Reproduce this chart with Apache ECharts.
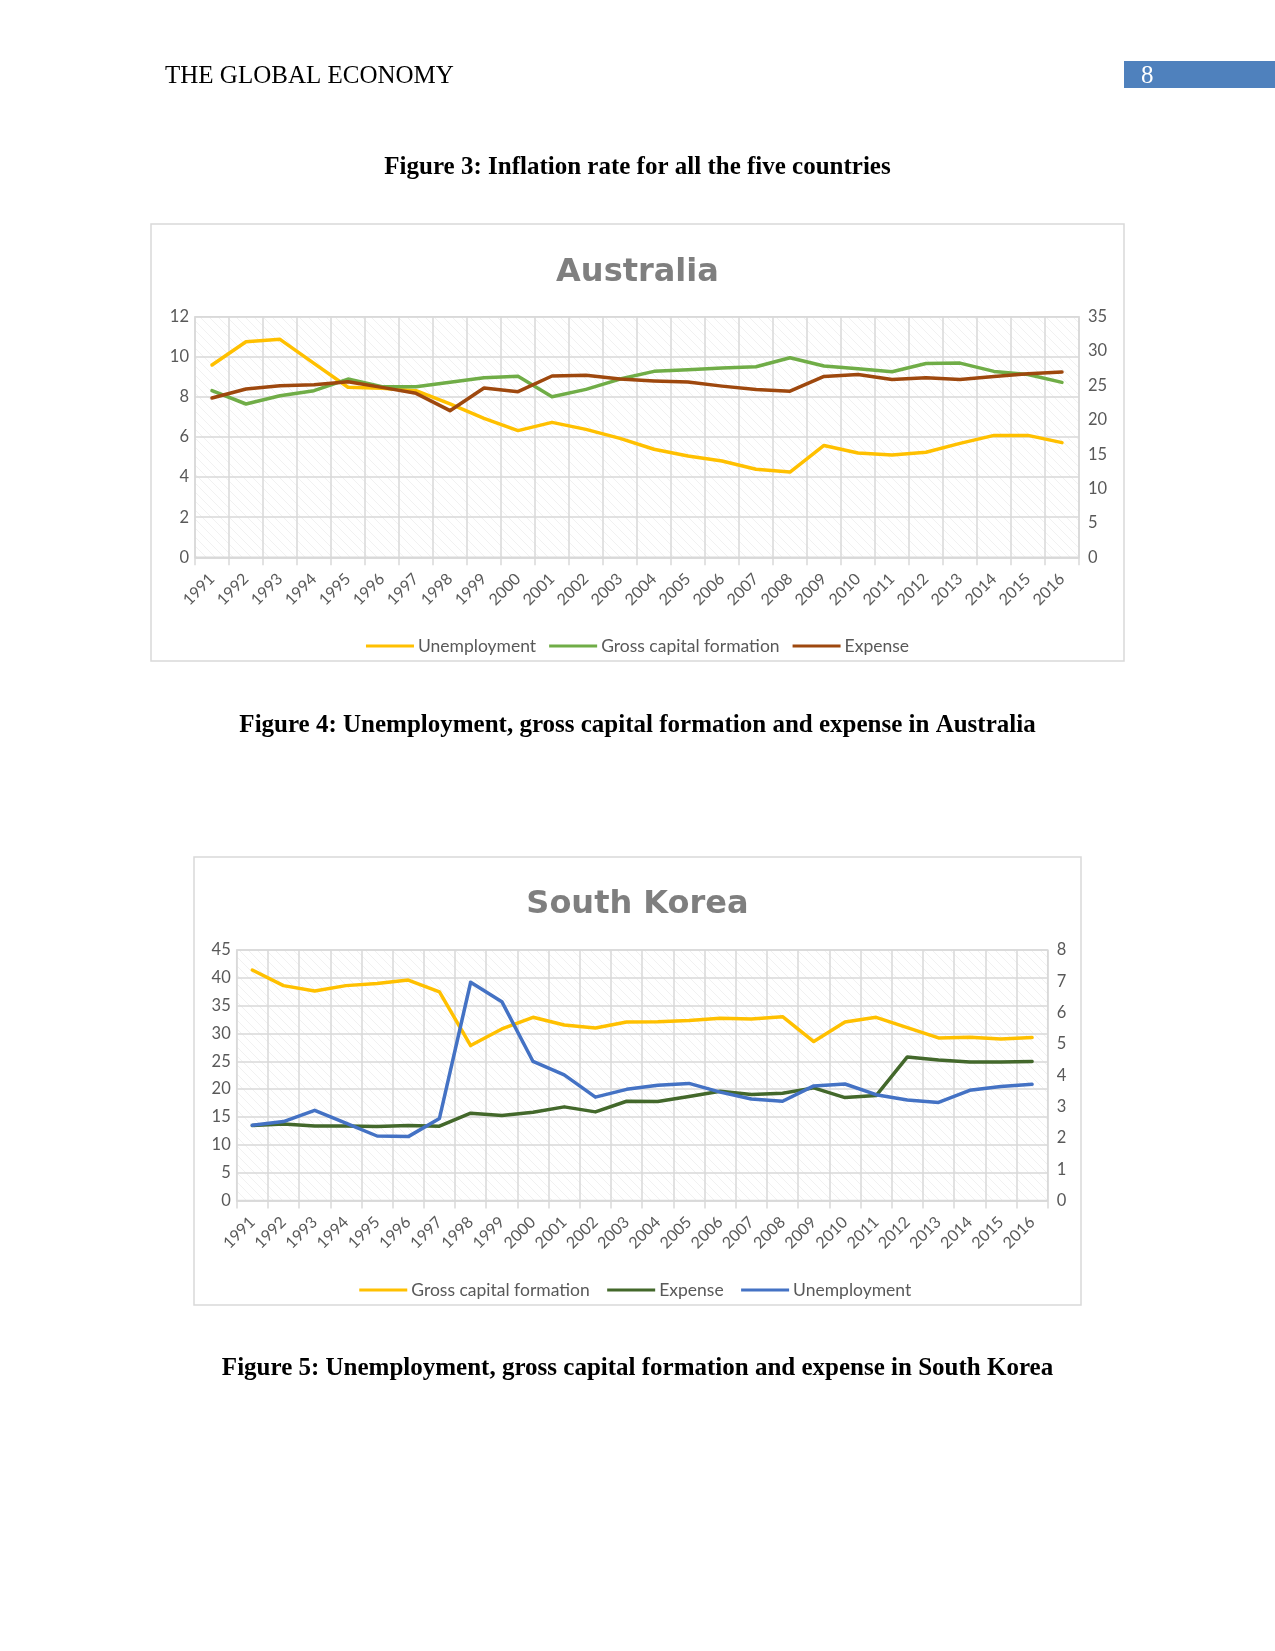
<!DOCTYPE html>
<html>
<head>
<meta charset="utf-8">
<script src="https://cdn.jsdelivr.net/npm/echarts@6/dist/echarts.min.js"></script>
<style>
html,body{margin:0;padding:0;background:#fff;}
#page{width:1275px;height:1651px;}
</style>
</head>
<body>
<div id="page"></div>
<script>
// ---------- data ----------
const years = ['1991','1992','1993','1994','1995','1996','1997','1998','1999','2000','2001','2002','2003','2004','2005','2006','2007','2008','2009','2010','2011','2012','2013','2014','2015','2016'];

// Australia
const auUnemployment = [9.59,10.75,10.87,9.67,8.48,8.43,8.31,7.65,6.93,6.32,6.73,6.38,5.93,5.39,5.05,4.80,4.39,4.25,5.58,5.20,5.10,5.24,5.68,6.08,6.08,5.72];
const auGrossCapital = [24.24,22.30,23.51,24.24,25.93,24.82,24.82,25.45,26.13,26.32,23.36,24.43,25.93,27.05,27.28,27.52,27.72,29.03,27.82,27.43,26.99,28.20,28.25,27.04,26.60,25.44];
const auExpense = [23.17,24.48,24.96,25.11,25.55,24.72,23.85,21.33,24.62,24.09,26.37,26.47,25.93,25.66,25.49,24.90,24.42,24.17,26.31,26.60,25.87,26.12,25.87,26.31,26.70,26.94];
const auLeftTicks = {min:0, max:12, interval:2};
const auRightTicks = {min:0, max:35, interval:5};

// South Korea
const krGrossCapital = [41.41,38.60,37.64,38.60,39.00,39.60,37.46,27.83,30.82,32.91,31.54,31.00,32.08,32.10,32.32,32.74,32.62,33.03,28.55,32.08,32.91,31.06,29.20,29.32,29.02,29.26];
const krExpense = [13.46,13.76,13.40,13.40,13.29,13.46,13.35,15.68,15.26,15.86,16.82,15.92,17.83,17.77,18.67,19.63,19.03,19.27,20.23,18.49,18.85,25.79,25.25,24.90,24.90,24.95];
const krUnemployment = [2.40,2.52,2.88,2.47,2.06,2.04,2.62,6.97,6.35,4.44,4.01,3.30,3.55,3.68,3.74,3.46,3.24,3.17,3.66,3.72,3.38,3.21,3.13,3.52,3.64,3.71];
const krLeftTicks = {min:0, max:45, interval:5};
const krRightTicks = {min:0, max:8, interval:1};

// ---------- styling ----------
const GRID = '#d9d9d9';
const LABEL = '#595959';
const LFONT = 'Lato';

function hatch(){
  const s = 9;
  const c = document.createElement('canvas');
  c.width = s; c.height = s;
  const g = c.getContext('2d');
  g.fillStyle = '#ffffff'; g.fillRect(0,0,s,s);
  g.strokeStyle = '#f1f1f1'; g.lineWidth = 1;
  g.beginPath();
  for (const k of [-s,0,s]) { g.moveTo(-1, -1 + k); g.lineTo(s + 1, s + 1 + k); }
  g.stroke();
  return c;
}
const pattern = {image: hatch(), repeat: 'repeat'};

function xAxis(gi){
  return {
    type:'category', gridIndex:gi, data:years, boundaryGap:true,
    axisLine:{show:true, lineStyle:{color:GRID, width:1.5}},
    axisTick:{show:true, length:8, lineStyle:{color:GRID, width:1.5}},
    splitLine:{show:true, lineStyle:{color:GRID, width:1.5}},
    axisLabel:{rotate:45, interval:0, margin:19, color:LABEL, fontFamily:LFONT, fontSize:16}
  };
}
function yAxis(gi, t, pos, split){
  return {
    type:'value', gridIndex:gi, position:pos, min:t.min, max:t.max, interval:t.interval,
    axisLine:{show:false}, axisTick:{show:false},
    splitLine:{show:split, lineStyle:{color:GRID, width:1.5}},
    axisLabel:{color:LABEL, fontFamily:LFONT, fontSize:16.5, margin: pos==='left' ? 6 : 9}
  };
}
function line(name, data, color, xi, yi){
  return {
    name, type:'line', data, xAxisIndex:xi, yAxisIndex:yi,
    symbol:'none', smooth:false,
    lineStyle:{color, width:3.5, join:'round', cap:'round'},
    itemStyle:{color},
    emphasis:{disabled:true}
  };
}

const legendStyle = {
  icon:'path://M0,0 L48,0 L48,3 L0,3 Z',
  itemWidth:48, itemHeight:3.5, itemGap:13,
  textStyle:{color:LABEL, fontFamily:LFONT, fontSize:17.5, padding:[0,0,0,-1]}
};

const serif = 'Liberation Serif, Times New Roman, serif';

const option = {
  animation:false,
  backgroundColor:'#ffffff',
  graphic:[
    {type:'rect', shape:{x:151, y:224, width:973, height:437}, style:{fill:'#fff', stroke:GRID, lineWidth:1.5}, z:-10},
    {type:'rect', shape:{x:194, y:857, width:887, height:448}, style:{fill:'#fff', stroke:GRID, lineWidth:1.5}, z:-10},
    {type:'rect', shape:{x:1124, y:61, width:151, height:27}, style:{fill:'#4f81bd'}},
    {type:'text', x:1141, y:76, style:{text:'8', fill:'#ffffff', font:'25px '+serif, textVerticalAlign:'middle'}},
    {type:'text', x:165, y:76, style:{text:'THE GLOBAL ECONOMY', fill:'#000', font:'25px '+serif, textVerticalAlign:'middle'}},
    {type:'text', x:637.5, y:168, style:{text:'Figure 3: Inflation rate for all the five countries', fill:'#000', font:'bold 25px '+serif, textAlign:'center', textVerticalAlign:'middle'}},
    {type:'text', x:637.5, y:726, style:{text:'Figure 4: Unemployment, gross capital formation and expense in Australia', fill:'#000', font:'bold 25px '+serif, textAlign:'center', textVerticalAlign:'middle'}},
    {type:'text', x:637.5, y:1369, style:{text:'Figure 5: Unemployment, gross capital formation and expense in South Korea', fill:'#000', font:'bold 25px '+serif, textAlign:'center', textVerticalAlign:'middle'}},
    {type:'text', x:637.5, y:273, style:{text:'Australia', fill:'#7f7f7f', font:'bold 32px DejaVu Sans', textAlign:'center', textVerticalAlign:'middle'}},
    {type:'text', x:637.5, y:905, style:{text:'South Korea', fill:'#7f7f7f', font:'bold 32px DejaVu Sans', textAlign:'center', textVerticalAlign:'middle'}}
  ],
  grid:[
    {left:195, top:316.7, width:884, height:240.6, show:true, backgroundColor:pattern, borderColor:GRID, borderWidth:1.5},
    {left:236.7, top:950, width:811, height:250.5, show:true, backgroundColor:pattern, borderColor:GRID, borderWidth:1.5}
  ],
  xAxis:[xAxis(0), xAxis(1)],
  yAxis:[
    yAxis(0, auLeftTicks, 'left', true),
    yAxis(0, auRightTicks, 'right', false),
    yAxis(1, krLeftTicks, 'left', true),
    yAxis(1, krRightTicks, 'right', false)
  ],
  legend:[
    Object.assign({}, legendStyle, {left:'center', top:632, data:['Unemployment','Gross capital formation','Expense']}),
    Object.assign({}, legendStyle, {left:'center', top:1276, data:['Gross capital formation ','Expense ','Unemployment ']})
  ],
  series:[
    line('Unemployment', auUnemployment, '#ffc000', 0, 0),
    line('Gross capital formation', auGrossCapital, '#70ad47', 0, 1),
    line('Expense', auExpense, '#9e480e', 0, 1),
    line('Gross capital formation ', krGrossCapital, '#ffc000', 1, 2),
    line('Expense ', krExpense, '#43682b', 1, 2),
    line('Unemployment ', krUnemployment, '#4472c4', 1, 3)
  ]
};

const chart = echarts.init(document.getElementById('page'), null, {renderer:'canvas'});
chart.setOption(option);
</script>
</body>
</html>
